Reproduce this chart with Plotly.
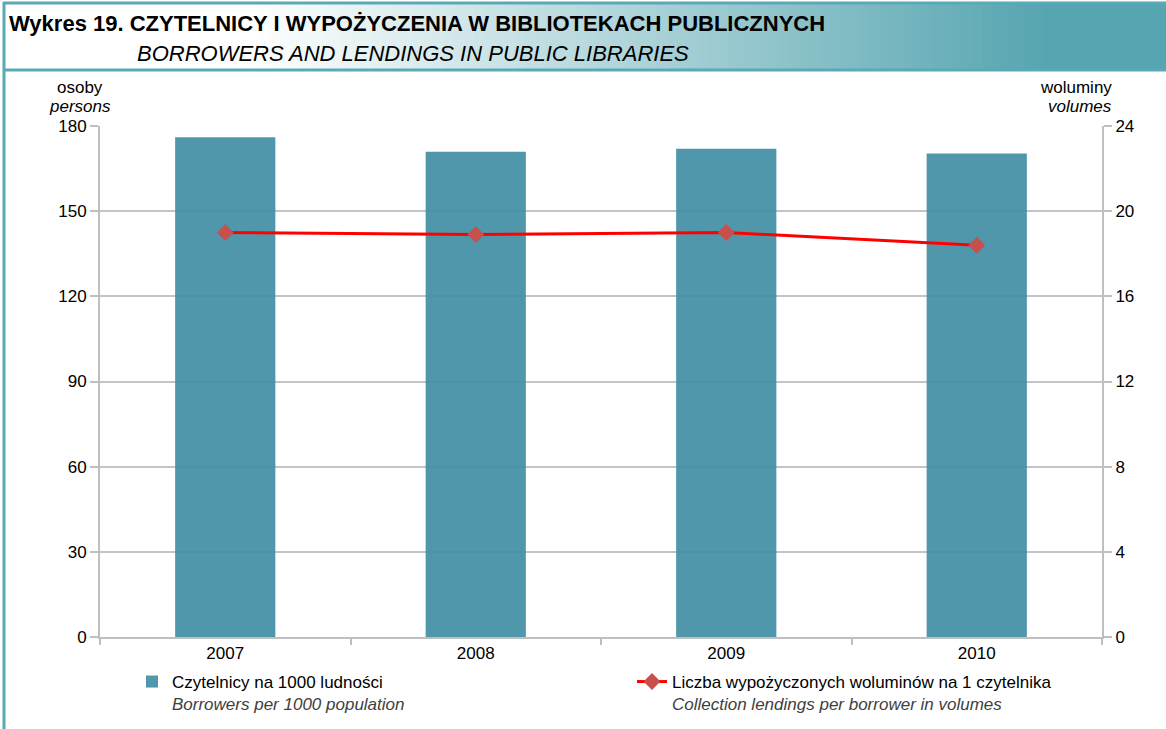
import plotly.graph_objects as go

years = ["2007", "2008", "2009", "2010"]
borrowers = [176.0, 170.9, 172.0, 170.3]
lendings = [19.0, 18.9, 19.0, 18.4]
left_ticks = [0, 30, 60, 90, 120, 150, 180]
right_ticks = [0, 4, 8, 12, 16, 20, 24]

NARROW = "Liberation Sans Narrow, Arial Narrow, sans-serif"
SANS = "Liberation Sans, Arial, sans-serif"

L, T, PW, PH = 100, 126, 1002, 511


def px(x):
    return (x - L) / PW


def py(y):
    return 1 - (y - T) / PH


fig = go.Figure()
fig.add_trace(go.Bar(
    x=years, y=borrowers,
    name="Czytelnicy na 1000 ludności<br><span style='color:#404040'><i>Borrowers per 1000 population</i></span>",
    marker=dict(color="rgba(65,142,164,0.92)", line=dict(width=0)),
    yaxis="y",
))
fig.add_trace(go.Scatter(
    x=years, y=lendings,
    name="Liczba wypożyczonych woluminów na 1 czytelnika<br><span style='color:#404040'><i>Collection lendings per borrower in volumes</i></span>",
    mode="lines+markers",
    line=dict(color="#FF0000", width=3),
    marker=dict(symbol="diamond", size=13, color="#C8504C"),
    yaxis="y2",
))

# title band gradient (white -> teal)
shapes = []
n = 90
x0px, x1px = 250, 1166
c0 = (255, 255, 255)
c1 = (86, 165, 176)
shapes.append(dict(type="rect", xref="paper", yref="paper",
                   x0=px(0), x1=px(x0px), y0=py(70), y1=py(3),
                   fillcolor="white", line=dict(width=0), layer="below"))
for i in range(n):
    a = x0px + (x1px - x0px) * i / n
    b = x0px + (x1px - x0px) * (i + 1) / n + 1
    t = min(1.0, (i + 0.5) / n * 1.15)
    col = tuple(int(round(c0[k] + (c1[k] - c0[k]) * t)) for k in range(3))
    shapes.append(dict(type="rect", xref="paper", yref="paper",
                       x0=px(a), x1=px(b), y0=py(70), y1=py(3),
                       fillcolor="rgb(%d,%d,%d)" % col, line=dict(width=0), layer="below"))
teal = "#5AAAB5"
shapes.append(dict(type="line", xref="paper", yref="paper", x0=px(3), x1=px(1166),
                   y0=py(3), y1=py(3), line=dict(color=teal, width=3)))
shapes.append(dict(type="line", xref="paper", yref="paper", x0=px(3), x1=px(1166),
                   y0=py(70), y1=py(70), line=dict(color=teal, width=3)))
shapes.append(dict(type="line", xref="paper", yref="paper", x0=px(4), x1=px(4),
                   y0=py(2), y1=py(729), line=dict(color=teal, width=3)))

annotations = [
    dict(text="<b>Wykres 19. CZYTELNICY I WYPOŻYCZENIA W BIBLIOTEKACH PUBLICZNYCH</b>",
         xref="paper", yref="paper", x=px(7), y=py(24), xanchor="left", yanchor="middle",
         showarrow=False, font=dict(family=NARROW, size=22, color="black")),
    dict(text="<i>BORROWERS AND LENDINGS IN PUBLIC LIBRARIES</i>",
         xref="paper", yref="paper", x=px(135), y=py(53), xanchor="left", yanchor="middle",
         showarrow=False, font=dict(family=NARROW, size=22, color="black")),
    dict(text="osoby", xref="paper", yref="paper", x=px(80), y=py(88),
         xanchor="center", yanchor="middle", showarrow=False, font=dict(family=NARROW, size=17, color="black")),
    dict(text="<i>persons</i>", xref="paper", yref="paper", x=px(80), y=py(106),
         xanchor="center", yanchor="middle", showarrow=False, font=dict(family=NARROW, size=17, color="black")),
    dict(text="woluminy", xref="paper", yref="paper", x=px(1114), y=py(88),
         xanchor="right", yanchor="middle", showarrow=False, font=dict(family=NARROW, size=17, color="black")),
    dict(text="<i>volumes</i>", xref="paper", yref="paper", x=px(1114), y=py(106),
         xanchor="right", yanchor="middle", showarrow=False, font=dict(family=NARROW, size=17, color="black")),
]

fig.update_layout(
    width=1166, height=729,
    margin=dict(l=L, r=1166 - L - PW, t=T, b=729 - T - PH, autoexpand=False),
    paper_bgcolor="white", plot_bgcolor="white",
    bargap=0.6,
    showlegend=True,
    legend=dict(orientation="h", x=px(132), y=py(664), xanchor="left", yanchor="top",
                entrywidth=455, entrywidthmode="pixels", valign="top",
                font=dict(family=SANS, size=17, color="black"), bgcolor="rgba(0,0,0,0)",
                itemwidth=30),
    xaxis=dict(type="category", showgrid=False, showline=True, linecolor="#BFBFBF", linewidth=2,
               ticks="outside", tickson="boundaries", ticklen=6, tickcolor="#BFBFBF", tickwidth=2,
               tickfont=dict(family=SANS, size=17, color="black"), fixedrange=True),
    yaxis=dict(range=[0, 180], tickvals=left_ticks, showgrid=True, gridcolor="#C4C4C4", gridwidth=2,
               showline=True, linecolor="#BFBFBF", linewidth=2, ticks="outside", ticklen=8,
               tickcolor="#BFBFBF", tickwidth=2, zeroline=False,
               tickfont=dict(family=SANS, size=17, color="black")),
    yaxis2=dict(range=[0, 24], tickvals=right_ticks, overlaying="y", side="right", showgrid=False,
                showline=True, linecolor="#BFBFBF", linewidth=2, ticks="outside", ticklen=8,
                tickcolor="#BFBFBF", tickwidth=2, zeroline=False,
                tickfont=dict(family=SANS, size=17, color="black")),
    shapes=shapes,
    annotations=annotations,
    hovermode=False,
)

fig.write_html("out.html", config={"displayModeBar": False},
               post_script="document.body.style.margin='0px';document.body.style.overflow='hidden';")
